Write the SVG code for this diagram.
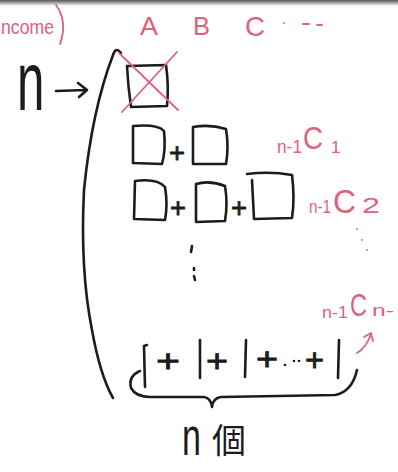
<svg xmlns="http://www.w3.org/2000/svg" width="398" height="472" viewBox="0 0 398 472">
<defs>
<linearGradient id="top" x1="0" y1="0" x2="0" y2="1">
<stop offset="0" stop-color="#555"/>
<stop offset="1" stop-color="#fff"/>
</linearGradient>
</defs>
<style>
.k{fill:none;stroke:#1c1c1c;stroke-width:2.6;stroke-linecap:round;stroke-linejoin:round}
.p{fill:none;stroke:#e06080;stroke-width:1.8;stroke-linecap:round;stroke-linejoin:round}
.pt{fill:#e06080;font-family:"Liberation Sans",Arial,sans-serif}
.kt{fill:#1c1c1c;font-family:"Liberation Sans",Arial,sans-serif}
.pl{fill:#1c1c1c;stroke:#1c1c1c;stroke-width:0.8;font-family:"Liberation Sans",Arial,sans-serif}
.cjk{fill:#1c1c1c;font-family:"Noto Sans CJK TC","Noto Sans CJK JP",sans-serif}
</style>
<rect width="398" height="472" fill="#fff"/>
<rect width="398" height="6" fill="url(#top)"/>

<g id="header">
<text class="pt" x="1" y="34" font-size="20" textLength="53" lengthAdjust="spacingAndGlyphs">ncome</text>
<path class="p" d="M56,5 Q68,22 60,44"/>
<text class="pt" x="140" y="35" font-size="26" textLength="18" lengthAdjust="spacingAndGlyphs">A</text>
<text class="pt" x="193" y="35" font-size="26" textLength="17" lengthAdjust="spacingAndGlyphs">B</text>
<text class="pt" x="245" y="36" font-size="28" textLength="20" lengthAdjust="spacingAndGlyphs">C</text>
<circle cx="284" cy="23" r="0.9" fill="#e06080"/>
<path class="p" d="M303,24 L309,24 M317,25 L322,25"/>
</g>

<g id="n-label">
<text class="kt" transform="translate(17,110) scale(0.85,1.45)" font-size="58" font-weight="300">n</text>
<path class="k" d="M56,91 L86,90 M78,83 L87,90 L79,97"/>
</g>

<g id="bracket">
<path class="k" d="M121,53 Q116,46 113,55 Q92,110 84,190 Q80,270 92,330 Q100,375 113,398" stroke-width="2.2"/>
</g>

<g id="row0">
<path class="k" d="M127,66 L166,65 Q169,86 167,106 L131,107 Q128,86 127,66 Z"/>
<path class="p" d="M119,53 L178,110 M177,52 L122,112" stroke-width="2"/>
</g>

<g id="row1">
<path class="k" d="M133,126 L133,163 L162,164 Q166,150 164,131 Q158,124 133,126"/>
<text class="pl" x="169" y="162" font-size="28" textLength="16" lengthAdjust="spacingAndGlyphs">+</text>
<path class="k" d="M193,127 L193,164 L226,164 Q229,147 226,129 Q210,124 193,127"/>
<text class="pt" x="277" y="153" font-size="18" textLength="25" lengthAdjust="spacingAndGlyphs">n-1</text>
<text class="pt" x="303" y="149" font-size="32" textLength="20" lengthAdjust="spacingAndGlyphs">C</text>
<text class="pt" x="331" y="153" font-size="17">1</text>
</g>

<g id="row2">
<path class="k" d="M135,181 L134,219 L165,220 Q168,204 165,187 Q157,178 135,181"/>
<text class="pl" x="170" y="217" font-size="28" textLength="16" lengthAdjust="spacingAndGlyphs">+</text>
<path class="k" d="M196,184 L196,222 L225,221 Q228,203 225,186 Q210,180 196,184"/>
<text class="pl" x="231" y="217" font-size="28" textLength="16" lengthAdjust="spacingAndGlyphs">+</text>
<path class="k" d="M247,174 Q270,171 292,175 Q295,198 292,218 L254,219 L252,180"/>
<text class="pt" x="309" y="213" font-size="18" textLength="22" lengthAdjust="spacingAndGlyphs">n-1</text>
<text class="pt" x="333" y="213" font-size="34" textLength="23" lengthAdjust="spacingAndGlyphs">C</text>
<text class="pt" x="362" y="213" font-size="22" textLength="18" lengthAdjust="spacingAndGlyphs">2</text>
</g>

<g id="ellipsis">
<path class="k" d="M192,246 L191,252 M194,268 L194,270 M194,276 L195,280" stroke-width="2"/>
<circle cx="357" cy="229" r="0.9" fill="#e06080"/>
<circle cx="362" cy="240" r="0.9" fill="#e06080"/>
<circle cx="367" cy="250" r="0.9" fill="#e06080"/>
</g>

<g id="rown">
<text class="pt" x="322" y="318" font-size="17" textLength="26" lengthAdjust="spacingAndGlyphs">n-1</text>
<text class="pt" x="350" y="316" font-size="32" textLength="17" lengthAdjust="spacingAndGlyphs">C</text>
<text class="pt" x="372" y="316" font-size="17" textLength="22" lengthAdjust="spacingAndGlyphs">n-</text>
<path class="p" d="M357,353 Q366,348 371,334 M364,337 L371,333 L373,341"/>
</g>

<g id="last-row">
<path class="k" d="M147,345 L144,346 L145,387"/>
<text class="pl" x="156" y="372" font-size="32" textLength="24" lengthAdjust="spacingAndGlyphs">+</text>
<path class="k" d="M200,340 L200,378"/>
<text class="pl" x="206" y="372" font-size="32" textLength="22" lengthAdjust="spacingAndGlyphs">+</text>
<path class="k" d="M246,340 L245,377"/>
<text class="pl" x="256" y="370" font-size="32" textLength="22" lengthAdjust="spacingAndGlyphs">+</text>
<circle cx="285" cy="365" r="1.3" fill="#1c1c1c"/>
<circle cx="294" cy="361" r="1.3" fill="#1c1c1c"/>
<circle cx="299" cy="361" r="1.3" fill="#1c1c1c"/>
<text class="pl" x="305" y="371" font-size="32" textLength="19" lengthAdjust="spacingAndGlyphs">+</text>
<path class="k" d="M339,340 L338,378"/>
</g>

<g id="brace">
<path class="k" d="M140,371 Q128,376 131,388 Q136,397 150,397 L204,397 Q211,398 212,407 Q213,398 221,397 L335,395 Q352,392 357,370" stroke-width="2.4"/>
</g>

<g id="count">
<text class="kt" transform="translate(182,455) scale(0.85,1.3)" font-size="40" font-weight="300">n</text>
<text class="cjk" x="212" y="453" font-size="34">個</text>
</g>
</svg>
